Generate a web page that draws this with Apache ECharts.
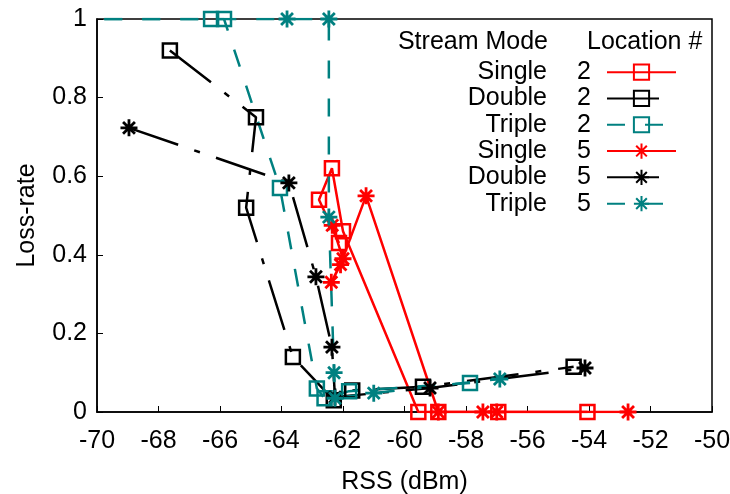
<!DOCTYPE html>
<html>
<head>
<meta charset="utf-8">
<script src="https://cdn.jsdelivr.net/npm/echarts@6/dist/echarts.min.js"></script>
<style>
  html, body { margin: 0; padding: 0; background: #fff; }
  #chart { width: 730px; height: 494px; }
</style>
</head>
<body>
<div id="chart"></div>
<script>
// Loss-rate versus received signal strength, per stream mode and location
const xTickMin = -70, xTickMax = -50, xTickStep = 2;
const yTickMin = 0, yTickMax = 1, yTickStep = 0.2;

const single2X = [-62.13, -62.78, -62.36, -62.0, -59.55, -58.9, -56.95, -54.05];
const single2Y = [0.43, 0.54, 0.62, 0.46, 0, 0, 0, 0];

const double2X = [-67.63, -64.83, -65.15, -63.63, -62.3, -61.7, -59.4, -54.5];
const double2Y = [0.92, 0.75, 0.52, 0.14, 0.03, 0.055, 0.064, 0.115];

const triple2X = [-71, -66.29, -65.87, -64.05, -62.85, -62.6, -61.8, -57.87];
const triple2Y = [1, 1, 1, 0.57, 0.06, 0.035, 0.053, 0.074];

const single5X = [-62.35, -62.0, -62.38, -62.08, -61.25, -58.9, -57.45, -57.0, -52.73];
const single5Y = [0.475, 0.39, 0.33, 0.375, 0.55, 0, 0, 0, 0];

const double5X = [-68.96, -63.76, -62.88, -62.36, -62.26, -59.17, -54.13];
const double5Y = [0.723, 0.583, 0.344, 0.165, 0.038, 0.061, 0.112];

const triple5X = [-71, -63.82, -62.46, -62.46, -62.29, -62.26, -61.0, -56.9];
const triple5Y = [1, 1, 1, 0.496, 0.1, 0.035, 0.048, 0.084];

const legendHeaderMode = 'Stream Mode';
const legendHeaderLoc = 'Location #';

const FONT = "'Liberation Sans', Arial, Helvetica, sans-serif";
const RED = '#ff0000', BLACK = '#000000', TEAL = '#008080';
const ASTERISK = 'path://M10 0 L10 20 M0 10 L20 10 M3 3 L17 17 M3 17 L17 3';
const DASH_TEAL = [18, 20];
const DASH_BLACK = [52, 17, 6, 17];

function pairs(xs, ys) {
  return xs.map((x, i) => [x, ys[i]]);
}

function squareSeries(name, xs, ys, color, dash) {
  return {
    name, type: 'line', data: pairs(xs, ys),
    symbol: 'rect', symbolSize: 14,
    itemStyle: { color: 'rgba(0,0,0,0)', borderColor: color, borderWidth: 2.5 },
    lineStyle: { color, width: 2.5, type: dash },
    emphasis: { disabled: true }, animation: false
  };
}

function starSeries(name, xs, ys, color, dash) {
  return {
    name, type: 'line', data: pairs(xs, ys),
    symbol: ASTERISK, symbolSize: 17,
    itemStyle: { color, borderColor: color, borderWidth: 2.8 },
    lineStyle: { color, width: 2.5, type: dash },
    emphasis: { disabled: true }, animation: false
  };
}

const chart = echarts.init(document.getElementById('chart'), null, { renderer: 'canvas' });

chart.setOption({
  backgroundColor: '#fff',
  animation: false,
  textStyle: { fontFamily: FONT },
  grid: {
    left: 97, right: 18, top: 19, bottom: 82,
    outerBoundsMode: 'none', containLabel: false,
    show: true, borderColor: '#000', borderWidth: 1.5
  },
  xAxis: {
    type: 'value', min: xTickMin, max: xTickMax, interval: xTickStep,
    name: 'RSS (dBm)', nameLocation: 'middle', nameGap: 58,
    nameTextStyle: { fontSize: 25, color: '#000', fontFamily: FONT },
    axisLine: { show: true, onZero: false, lineStyle: { color: '#000', width: 1.5 } },
    axisTick: { show: true, inside: true, length: 6, lineStyle: { color: '#000', width: 1 } },
    axisLabel: { fontSize: 25, color: '#000', margin: 17, fontFamily: FONT },
    splitLine: { show: false }
  },
  yAxis: {
    type: 'value', min: yTickMin, max: yTickMax, interval: yTickStep,
    name: 'Loss-rate', nameLocation: 'middle', nameGap: 57, nameRotate: 90,
    nameTextStyle: { fontSize: 25, color: '#000', fontFamily: FONT },
    axisLine: { show: true, onZero: false, lineStyle: { color: '#000', width: 1.5 } },
    axisTick: { show: true, inside: true, length: 6, lineStyle: { color: '#000', width: 1 } },
    axisLabel: { fontSize: 25, color: '#000', margin: 10, fontFamily: FONT },
    splitLine: { show: false }
  },
  legend: {
    orient: 'vertical', right: 53, top: 59, padding: 0,
    align: 'right', itemWidth: 69, itemHeight: 19, itemGap: 0,
    selectedMode: false,
    formatter: (name) => {
      const parts = name.split(' ');
      return '{a|' + parts[0] + '}{b|' + parts[1] + '}{c| }';
    },
    textStyle: {
      fontFamily: FONT, fontSize: 25, color: '#000', lineHeight: 26.3,
      rich: {
        a: { width: 110, align: 'right', fontSize: 25, fontFamily: FONT, lineHeight: 26.3 },
        b: { width: 44, align: 'right', fontSize: 25, fontFamily: FONT, lineHeight: 26.3 },
        c: { width: 11, fontSize: 25, fontFamily: FONT, lineHeight: 26.3 }
      }
    }
  },
  graphic: [
    { type: 'text', x: 548, y: 42,
      style: { text: legendHeaderMode, font: '25px ' + FONT, fill: '#000', textAlign: 'right', textVerticalAlign: 'middle' } },
    { type: 'text', x: 587, y: 42,
      style: { text: legendHeaderLoc, font: '25px ' + FONT, fill: '#000', textAlign: 'left', textVerticalAlign: 'middle' } }
  ],
  series: [
    squareSeries('Single 2', single2X, single2Y, RED, 'solid'),
    squareSeries('Double 2', double2X, double2Y, BLACK, DASH_BLACK),
    squareSeries('Triple 2', triple2X, triple2Y, TEAL, DASH_TEAL),
    starSeries('Single 5', single5X, single5Y, RED, 'solid'),
    starSeries('Double 5', double5X, double5Y, BLACK, DASH_BLACK),
    starSeries('Triple 5', triple5X, triple5Y, TEAL, DASH_TEAL)
  ]
});
</script>
</body>
</html>
